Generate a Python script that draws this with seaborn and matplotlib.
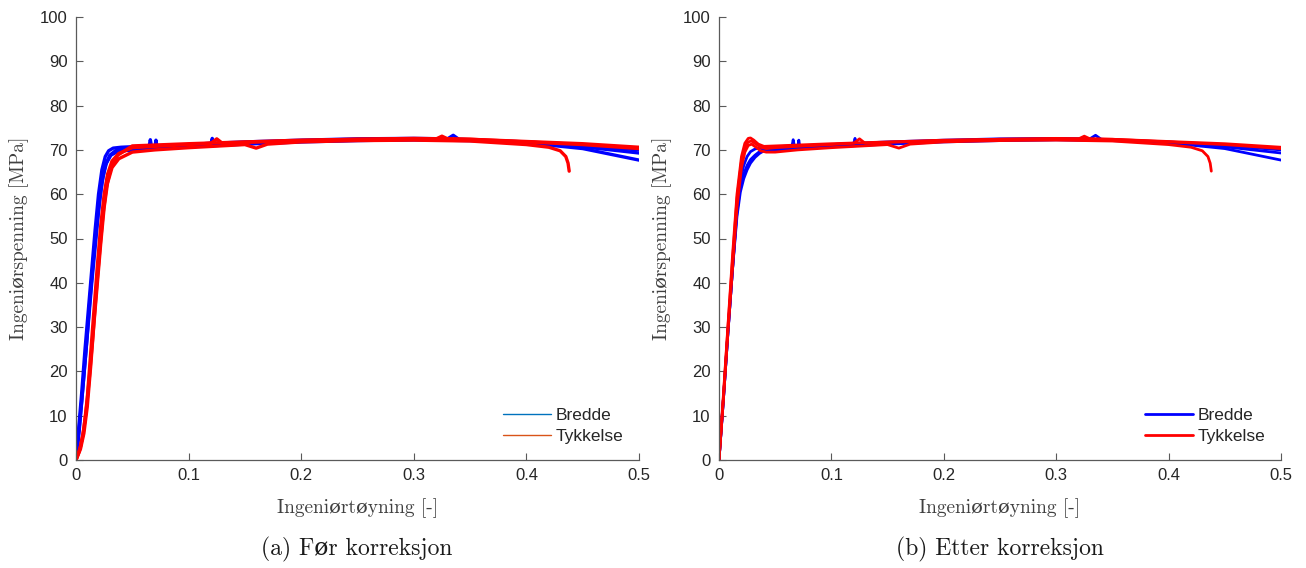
import matplotlib
matplotlib.use("Agg")
import matplotlib.pyplot as plt
from matplotlib.lines import Line2D
import seaborn as sns
import pandas as pd

sns.set_theme(style="white")
plt.rcParams['font.family'] = ['Liberation Sans', 'DejaVu Sans']

# ---------------- data ----------------
xticks = [0, 0.1, 0.2, 0.3, 0.4, 0.5]
yticks = [0, 10, 20, 30, 40, 50, 60, 70, 80, 90, 100]
legend_labels = ["Bredde", "Tykkelse"]
captions = ["(a) Før korreksjon", "(b) Etter korreksjon"]
xlabel = "Ingeniørtøyning [-]"
ylabel = "Ingeniørspenning [MPa]"

# plastic (plateau) part of each specimen, shared by both panels
plat_strain_b1 = [0.04, 0.065, 0.066, 0.067, 0.1, 0.12, 0.121, 0.122, 0.15, 0.2, 0.25, 0.3, 0.33, 0.335, 0.34, 0.35, 0.4, 0.45, 0.5]
plat_stress_b1 = [70.6, 70.9, 72.3, 70.9, 71.2, 71.5, 72.6, 71.5, 71.8, 72.2, 72.5, 72.6, 72.5, 73.3, 72.4, 72.3, 71.6, 70.3, 67.7]
plat_strain_b2 = [0.04, 0.07, 0.071, 0.072, 0.1, 0.15, 0.2, 0.25, 0.3, 0.35, 0.4, 0.45, 0.5]
plat_stress_b2 = [70.2, 70.5, 72.2, 70.5, 70.8, 71.4, 71.9, 72.2, 72.3, 72.1, 71.6, 70.7, 69.3]
plat_strain_b3 = [0.04, 0.07, 0.1, 0.15, 0.2, 0.25, 0.3, 0.35, 0.4, 0.45, 0.5]
plat_stress_b3 = [69.8, 70.2, 70.7, 71.3, 71.8, 72.1, 72.3, 72.2, 71.8, 71.0, 70.0]

plat_strain_r1 = [0.05, 0.07, 0.1, 0.15, 0.16, 0.17, 0.2, 0.25, 0.3, 0.35, 0.4, 0.42, 0.43, 0.435, 0.437, 0.438]
plat_stress_r1 = [69.5, 70.0, 70.5, 71.2, 70.4, 71.3, 71.8, 72.1, 72.2, 72.0, 71.2, 70.6, 69.8, 68.5, 67.0, 65.2]
plat_strain_r2 = [0.05, 0.07, 0.1, 0.12, 0.125, 0.13, 0.15, 0.2, 0.25, 0.3, 0.35, 0.4, 0.45, 0.5]
plat_stress_r2 = [70.5, 70.8, 71.2, 71.5, 72.5, 71.5, 71.7, 72.1, 72.4, 72.6, 72.4, 71.8, 71.2, 70.3]
plat_strain_r3 = [0.05, 0.07, 0.1, 0.15, 0.2, 0.25, 0.3, 0.32, 0.325, 0.33, 0.35, 0.4, 0.45, 0.5]
plat_stress_r3 = [70.9, 71.1, 71.4, 71.8, 72.2, 72.4, 72.5, 72.5, 73.1, 72.5, 72.4, 71.9, 71.4, 70.6]

# elastic part, before correction (panel a)
el_a_strain_b1 = [0.0, 0.002, 0.005, 0.008, 0.011, 0.014, 0.017, 0.02, 0.023, 0.026, 0.029, 0.033, 0.04]
el_a_stress_b1 = [0.0, 6.0, 15.0, 25.0, 34.0, 43.0, 52.0, 60.0, 65.5, 68.5, 69.8, 70.4, 70.6]
el_a_strain_b2 = [0.0, 0.002, 0.005, 0.008, 0.011, 0.014, 0.017, 0.02, 0.023, 0.026, 0.03, 0.035, 0.04]
el_a_stress_b2 = [0.0, 5.0, 13.0, 22.0, 31.0, 40.0, 48.0, 56.0, 62.5, 66.5, 68.8, 69.8, 70.2]
el_a_strain_b3 = [0.0, 0.003, 0.006, 0.009, 0.012, 0.015, 0.018, 0.021, 0.024, 0.027, 0.031, 0.036, 0.04]
el_a_stress_b3 = [0.0, 7.0, 16.0, 25.0, 35.0, 44.0, 52.0, 59.0, 64.0, 67.0, 68.8, 69.5, 69.8]

el_a_strain_r1 = [0.0, 0.004, 0.007, 0.01, 0.013, 0.016, 0.019, 0.022, 0.025, 0.028, 0.032, 0.038, 0.05]
el_a_stress_r1 = [0.0, 2.5, 6.0, 12.0, 21.0, 31.0, 40.0, 49.0, 57.0, 62.5, 66.0, 68.0, 69.5]
el_a_strain_r2 = [0.0, 0.004, 0.007, 0.01, 0.013, 0.016, 0.019, 0.022, 0.025, 0.028, 0.032, 0.038, 0.05]
el_a_stress_r2 = [0.0, 3.0, 7.0, 14.0, 24.0, 34.0, 44.0, 53.0, 60.0, 64.5, 67.5, 69.2, 70.5]
el_a_strain_r3 = [0.0, 0.003, 0.006, 0.009, 0.012, 0.015, 0.018, 0.021, 0.024, 0.027, 0.031, 0.037, 0.05]
el_a_stress_r3 = [0.0, 2.0, 5.5, 11.0, 19.0, 28.0, 38.0, 47.0, 55.5, 61.5, 66.0, 68.8, 70.9]

# elastic part, after correction (panel b)
el_b_strain_b1 = [0.0, 0.004, 0.008, 0.012, 0.016, 0.019, 0.022, 0.025, 0.028, 0.032, 0.036, 0.04]
el_b_stress_b1 = [0.0, 14.0, 29.0, 43.0, 57.0, 63.0, 66.5, 68.5, 69.6, 70.2, 70.5, 70.6]
el_b_strain_b2 = [0.0, 0.004, 0.008, 0.012, 0.016, 0.019, 0.022, 0.025, 0.028, 0.032, 0.036, 0.04]
el_b_stress_b2 = [0.0, 14.0, 29.0, 43.0, 56.0, 61.5, 64.5, 66.5, 67.8, 68.8, 69.6, 70.2]
el_b_strain_b3 = [0.0, 0.004, 0.008, 0.012, 0.016, 0.019, 0.022, 0.025, 0.028, 0.032, 0.036, 0.04]
el_b_stress_b3 = [0.0, 14.0, 29.0, 43.0, 55.0, 60.5, 63.5, 65.5, 67.0, 68.3, 69.2, 69.8]

el_b_strain_r1 = [0.0, 0.004, 0.008, 0.012, 0.016, 0.02, 0.023, 0.026, 0.029, 0.033, 0.037, 0.042, 0.05]
el_b_stress_r1 = [0.0, 14.0, 29.0, 43.0, 57.0, 66.0, 69.5, 71.0, 71.3, 70.6, 69.8, 69.5, 69.5]
el_b_strain_r2 = [0.0, 0.004, 0.008, 0.012, 0.016, 0.02, 0.023, 0.026, 0.029, 0.033, 0.037, 0.042, 0.05]
el_b_stress_r2 = [0.0, 14.5, 30.0, 45.0, 59.0, 67.5, 70.5, 71.8, 72.0, 71.3, 70.6, 70.3, 70.5]
el_b_strain_r3 = [0.0, 0.004, 0.008, 0.012, 0.016, 0.02, 0.023, 0.026, 0.028, 0.031, 0.035, 0.04, 0.05]
el_b_stress_r3 = [0.0, 15.0, 30.5, 46.0, 60.0, 68.5, 71.5, 72.6, 72.7, 72.2, 71.3, 70.8, 70.9]

# ---------------- build ----------------
plat_b = [(plat_strain_b1, plat_stress_b1), (plat_strain_b2, plat_stress_b2), (plat_strain_b3, plat_stress_b3)]
plat_r = [(plat_strain_r1, plat_stress_r1), (plat_strain_r2, plat_stress_r2), (plat_strain_r3, plat_stress_r3)]
el_a_b = [(el_a_strain_b1, el_a_stress_b1), (el_a_strain_b2, el_a_stress_b2), (el_a_strain_b3, el_a_stress_b3)]
el_a_r = [(el_a_strain_r1, el_a_stress_r1), (el_a_strain_r2, el_a_stress_r2), (el_a_strain_r3, el_a_stress_r3)]
el_b_b = [(el_b_strain_b1, el_b_stress_b1), (el_b_strain_b2, el_b_stress_b2), (el_b_strain_b3, el_b_stress_b3)]
el_b_r = [(el_b_strain_r1, el_b_stress_r1), (el_b_strain_r2, el_b_stress_r2), (el_b_strain_r3, el_b_stress_r3)]


def frame(elastic, plateau, group):
    rows = []
    for i, ((es, ey), (ps, py)) in enumerate(zip(elastic, plateau)):
        xs = list(es) + list(ps[1:])
        ys = list(ey) + list(py[1:])
        for k, (x, y) in enumerate(zip(xs, ys)):
            rows.append({"strain": x, "stress": y, "curve": f"{group}{i}", "order": k})
    return pd.DataFrame(rows)


W, H = 1306, 568
fig = plt.figure(figsize=(W / 100, H / 100), dpi=100)
axes = [
    fig.add_axes([76 / W, (H - 460) / H, (639 - 76) / W, (460 - 17) / H]),
    fig.add_axes([719 / W, (H - 460) / H, (1281 - 719) / W, (460 - 17) / H]),
]

serif = ['cmr10', 'DejaVu Serif']
spine_col = '#5a5a5a'
tick_col = '#262626'

panels = [(el_a_b, el_a_r), (el_b_b, el_b_r)]
for idx, (ax, (eb, er)) in enumerate(zip(axes, panels)):
    db = frame(eb, plat_b, "b")
    dr = frame(er, plat_r, "r")
    lw_main = 2.4 if idx == 0 else 2.0
    for name, g in db.groupby("curve"):
        sns.lineplot(data=g, x="strain", y="stress", sort=False, estimator=None,
                     color="#0000ff", lw=lw_main, ax=ax, legend=False)
    for name, g in dr.groupby("curve"):
        sns.lineplot(data=g, x="strain", y="stress", sort=False, estimator=None,
                     color="#ff0000", lw=lw_main, ax=ax, legend=False)

    ax.set_xlim(0, 0.5)
    ax.set_ylim(0, 100)
    ax.set_xticks(xticks)
    ax.set_xticklabels(["0", "0.1", "0.2", "0.3", "0.4", "0.5"])
    ax.set_yticks(yticks)
    ax.set_yticklabels([str(v) for v in yticks])
    ax.tick_params(bottom=True, left=True, top=False, right=False,
                   direction='in', length=5, width=0.8, colors=spine_col,
                   labelcolor=tick_col, labelsize=12, pad=6)
    for s in ['top', 'right']:
        ax.spines[s].set_visible(False)
    for s in ['left', 'bottom']:
        ax.spines[s].set_color(spine_col)
        ax.spines[s].set_linewidth(0.9)
    ax.set_facecolor('white')
    ax.set_xlabel(xlabel, family=serif, fontsize=14, color='#404040', labelpad=11)
    ax.set_ylabel(ylabel, family=serif, fontsize=14, color='#404040', labelpad=8)

    if idx == 0:
        cols, lw = ['#0072bd', '#d95319'], 1.0
    else:
        cols, lw = ['#0000ff', '#ff0000'], 2.0
    handles = [Line2D([0], [0], color=c, lw=lw) for c in cols]
    ax.legend(handles, legend_labels, loc='lower right', frameon=False,
              fontsize=12.5, handlelength=2.8, handletextpad=0.25,
              labelspacing=0.35, bbox_to_anchor=(1.0, 0.0))

fig.patch.set_facecolor('white')
fig.text(357 / W, 1 - 549 / H, captions[0], family=serif, fontsize=17,
         ha='center', va='center', color='#1a1a1a')
fig.text(1000 / W, 1 - 549 / H, captions[1], family=serif, fontsize=17,
         ha='center', va='center', color='#1a1a1a')

fig.savefig("out.png", dpi=100, facecolor='white')
